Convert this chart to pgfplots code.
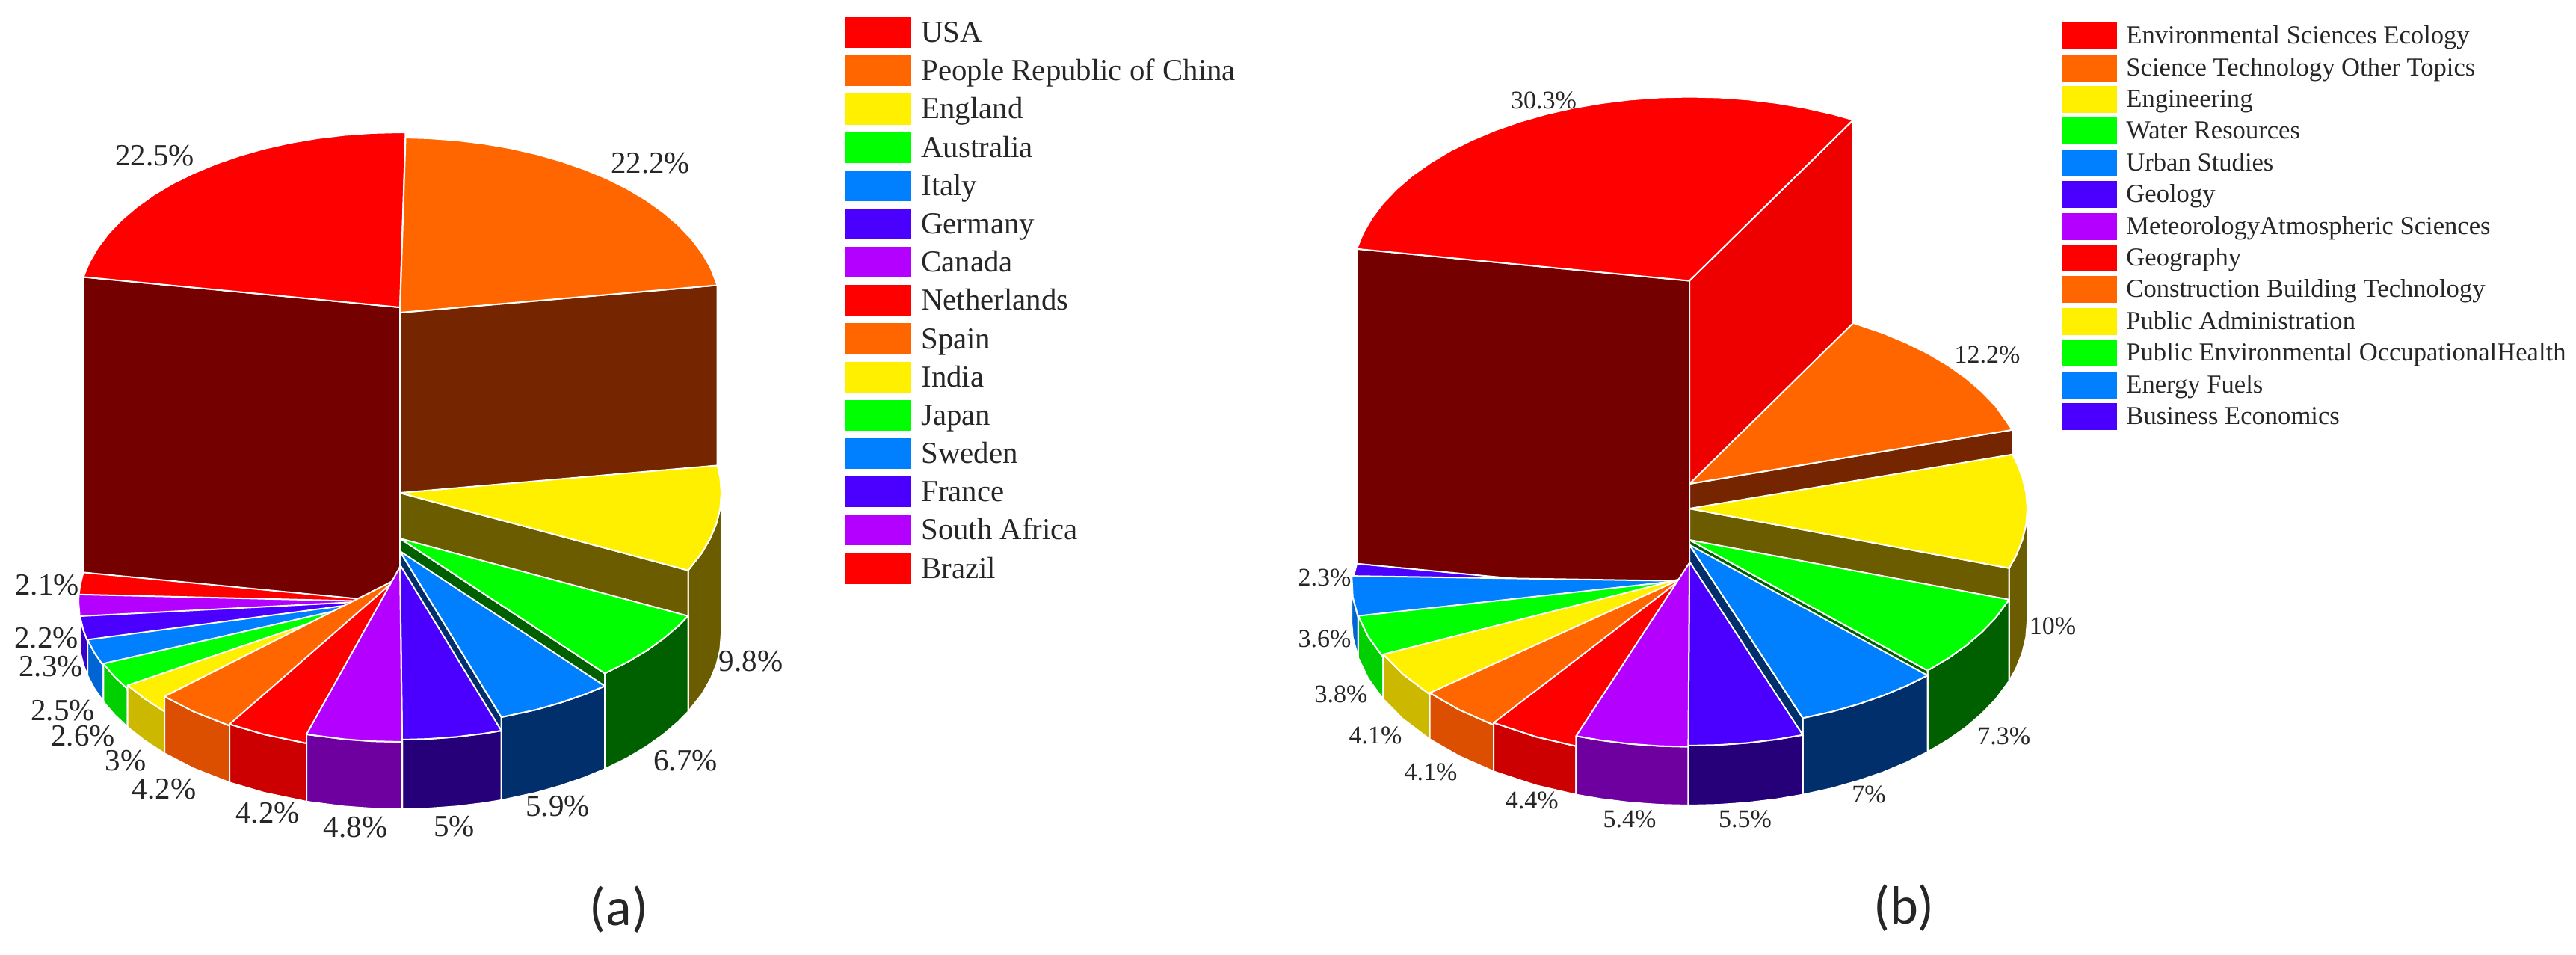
\documentclass[border=0pt]{standalone}
\usepackage{fontspec}
\setmainfont{Liberation Serif}
\newfontfamily\calib{Carlito}
\usepackage{pgfplots}
\pgfplotsset{compat=1.18}
\definecolor{cR}{HTML}{FF0000}\definecolor{cO}{HTML}{FF6600}\definecolor{cY}{HTML}{FFF000}
\definecolor{cG}{HTML}{00FF00}\definecolor{cB}{HTML}{0080FF}\definecolor{cV}{HTML}{4B00FF}
\definecolor{cP}{HTML}{B400FF}
\definecolor{dR}{HTML}{750000}\definecolor{dO}{HTML}{752600}\definecolor{dY}{HTML}{6B5C00}
\definecolor{dG}{HTML}{006000}\definecolor{dB}{HTML}{002F6B}\definecolor{dV}{HTML}{250078}
\definecolor{dP}{HTML}{6E00A0}
\definecolor{lR}{HTML}{CC0000}\definecolor{lO}{HTML}{DC4E00}\definecolor{lY}{HTML}{CDB800}
\definecolor{lG}{HTML}{00D000}\definecolor{lB}{HTML}{0064D2}\definecolor{lV}{HTML}{3A00CC}
\definecolor{rR}{HTML}{EE0000}
\newcommand\poly[2]{\addplot[fill=#1,draw=white,line width=1pt,line join=round] coordinates {#2} --cycle;}
\newcommand\swa[3]{\addplot[fill=#1,draw=none] coordinates {(1130,#2)(1219,#2)(1219,#3)(1130,#3)} --cycle;}
\newcommand\swb[3]{\addplot[fill=#1,draw=none] coordinates {(2758,#2)(2832,#2)(2832,#3)(2758,#3)} --cycle;}
\newcommand\pa[3]{\node[font=\fontsize{20.5}{22}\selectfont,text=black!85] at (axis cs:#1,#2) {#3\%};}
\newcommand\pb[3]{\node[font=\fontsize{17}{19}\selectfont,text=black!85] at (axis cs:#1,#2) {#3\%};}
\newcommand\la[2]{\node[anchor=west,inner sep=0pt,yshift=-1.5pt,text height=14pt,text depth=4pt,font=\fontsize{20.4}{22}\selectfont,text=black!85] at (axis cs:1232,#1) {#2};}
\newcommand\lb[2]{\node[anchor=west,inner sep=0pt,yshift=-1pt,text height=12pt,text depth=3.5pt,font=\fontsize{17.3}{19}\selectfont,text=black!85] at (axis cs:2844,#1) {#2};}
\begin{document}
\begin{tikzpicture}
\path[use as bounding box] (0,0) rectangle (1723pt,638pt);
\begin{axis}[at={(0,0)},anchor=south west,scale only axis,width=1723pt,height=638pt,
  xmin=0,xmax=3446,ymin=0,ymax=1276,y dir=reverse,hide axis,clip=false,no markers]
% ---- chart (a): back
\poly{dO}{(535,418)(959.7,381.4)(959.7,811.4)(535,848)}
\poly{dR}{(111.5,370.4)(535,411)(535,848)(111.5,808)}
\poly{cR}{(535,411)(111.5,370.4)(119.7,350.4)(131,331)(145.3,312.1)(162.6,294)(182.8,276.8)(205.6,260.6)(230.9,245.5)(258.6,231.8)(288.4,219.3)(320,208.4)(353.3,198.9)(388,191.1)(423.7,185)(460.4,180.6)(497.5,177.9)(535,177)(542.5,177)}
\poly{cO}{(535,418)(542.5,184)(572.5,184.9)(609.7,187.6)(646.3,192)(682.1,198.1)(716.7,205.9)(750,215.4)(781.6,226.3)(811.4,238.7)(839.1,252.5)(864.4,267.6)(887.2,283.8)(907.4,301)(924.7,319.1)(939.1,338)(950.3,357.4)(959.7,381.4)}
% England
\poly{dY}{(965,659)(963.4,679.4)(958.5,699.6)(950.3,719.6)(939.1,739)(920.5,762.7)(920.5,951.7)(939.1,928)(950.3,908.6)(958.5,888.6)(963.4,868.4)(965,848)}
\poly{dY}{(535,659)(920.5,762.7)(920.5,951.7)(535,848)}
\poly{cY}{(535,659)(959.7,622.4)(963.4,638.6)(965,659)(963.4,679.4)(958.5,699.6)(950.3,719.6)(939.1,739)(920.5,762.7)}
% Australia
\poly{dG}{(920.5,823.7)(907.4,837)(887.2,854.2)(864.4,870.4)(839.1,885.5)(809.1,900.3)(809.1,1028.3)(839.1,1013.5)(864.4,998.4)(887.2,982.2)(907.4,965)(920.5,951.7)}
\poly{dG}{(535,720)(809.1,900.3)(809.1,1028.3)(535,848)}
\poly{cG}{(535,720)(920.5,823.7)(907.4,837)(887.2,854.2)(864.4,870.4)(839.1,885.5)(809.1,900.3)}
% Italy
\poly{dB}{(809.1,917.3)(781.6,928.7)(750,939.6)(716.7,949.1)(670.7,959)(670.7,1070)(716.7,1060.1)(750,1050.6)(781.6,1039.7)(809.1,1028.3)}
\poly{dB}{(535,737)(670.7,959)(670.7,1070)(535,848)}
\poly{cB}{(535,737)(809.1,917.3)(781.6,928.7)(750,939.6)(716.7,949.1)(670.7,959)}
% Germany
\poly{dV}{(670.7,977)(646.3,981)(609.7,985.4)(572.5,988.1)(538,989)(538,1082)(572.5,1081.1)(609.7,1078.4)(646.3,1074)(670.7,1070)}
\poly{cV}{(535,755)(670.7,977)(646.3,981)(609.7,985.4)(572.5,988.1)(538,989)}
% left fan, back to front
\poly{cR}{(535,806)(105.4,795.8)(107.4,781.5)(111.5,765.4)}
\poly{dP}{(105,805)(106.9,827)(106.9,870)(105,848)}
\poly{cP}{(535,805)(106.9,827)(105,805)(105.4,794.8)}
\poly{lV}{(106.9,824)(111.5,842.6)(117.2,857.4)(117.2,903.4)(111.5,888.6)(106.9,870)}
\poly{cV}{(535,802)(117.2,857.4)(111.5,842.6)(106.9,824)}
\poly{lB}{(117.2,855.4)(126,872.3)(138.3,890.3)(138.3,938.3)(126,920.3)(117.2,903.4)}
\poly{cB}{(535,800)(138.3,890.3)(126,872.3)(117.2,855.4)}
\poly{lG}{(138.3,887.3)(153.2,904.7)(170.7,921.3)(170.7,972.3)(153.2,955.7)(138.3,938.3)}
\poly{cG}{(535,797)(170.7,921.3)(153.2,904.7)(138.3,887.3)}
\poly{lY}{(170.7,916.3)(193.8,934.4)(220,951.3)(220,1007.3)(193.8,990.4)(170.7,972.3)}
\poly{cY}{(535,792)(220,951.3)(193.8,934.4)(170.7,916.3)}
\poly{lO}{(220,931.3)(258.6,951.3)(307.1,970.4)(307.1,1046.4)(258.6,1027.3)(220,1007.3)}
\poly{cO}{(535,772)(307.1,970.4)(258.6,951.3)(220,931.3)}
\poly{lR}{(307.1,968.4)(353.3,982)(410,993.9)(410,1071.9)(353.3,1060)(307.1,1046.4)}
\poly{cR}{(535,770)(410,993.9)(353.3,982)(307.1,968.4)}
\poly{dP}{(410,981.9)(460.3,988.4)(497.5,991.1)(538,992)(538,1082)(497.5,1081.1)(460.3,1078.4)(410,1071.9)}
\poly{cP}{(535,758)(538,992)(497.5,991.1)(460.3,988.4)(410,981.9)}
% ---- chart (b)
\poly{dR}{(1814.9,332.8)(2260,375.5)(2260,831)(1814.9,788.3)}
\poly{rR}{(2260,375.5)(2479.1,160.3)(2479.1,615.8)(2260,831)}
\poly{cR}{(2260,375.5)(1814.9,332.8)(1823.4,311.8)(1835.3,291.4)(1850.3,271.5)(1868.6,252.5)(1889.7,234.4)(1913.7,217.4)(1940.4,201.5)(1969.5,187.1)(2000.7,174)(2034,162.5)(2069,152.5)(2105.4,144.3)(2143,137.9)(2181.5,133.2)(2220.6,130.4)(2260,129.5)(2299.4,130.4)(2338.5,133.2)(2377,137.9)(2414.6,144.3)(2451,152.5)(2479.1,160.3)}
\poly{dO}{(2260,647)(2692,574.7)(2692,758.7)(2260,831)}
\poly{cO}{(2260,647)(2479.1,431.8)(2519.3,445.5)(2550.5,458.6)(2579.6,473)(2606.3,488.9)(2630.3,505.9)(2651.4,524)(2669.7,543)(2692,574.7)}
\poly{dY}{(2712,680)(2710.3,701.4)(2705.1,722.7)(2696.6,743.7)(2687.6,759.7)(2687.6,910.7)(2696.6,894.7)(2705.1,873.7)(2710.3,852.4)(2712,831)}
\poly{dY}{(2260,680)(2687.6,759.7)(2687.6,910.7)(2260,831)}
\poly{cY}{(2260,680)(2692,607.7)(2696.6,616.3)(2705.1,637.3)(2710.3,658.6)(2712,680)(2710.3,701.4)(2705.1,722.7)(2696.6,743.7)(2687.6,759.7)}
\poly{dG}{(2687.6,801.7)(2669.7,826)(2651.4,845)(2630.3,863.1)(2606.3,880.1)(2578.5,896.6)(2578.5,1005.6)(2606.3,989.1)(2630.3,972.1)(2651.4,954)(2669.7,935)(2687.6,910.7)}
\poly{dG}{(2260,722)(2578.5,896.6)(2578.5,1005.6)(2260,831)}
\poly{cG}{(2260,722)(2687.6,801.7)(2669.7,826)(2651.4,845)(2630.3,863.1)(2606.3,880.1)(2578.5,896.6)}
\poly{dB}{(2578.5,903.1)(2550.5,916.9)(2519.3,930)(2486,941.5)(2451,951.5)(2411.6,960.2)(2411.6,1062.7)(2451,1054)(2486,1044)(2519.3,1032.5)(2550.5,1019.4)(2578.5,1005.6)}
\poly{dB}{(2260,728.5)(2411.6,960.2)(2411.6,1062.7)(2260,831)}
\poly{cB}{(2260,728.5)(2578.5,903.1)(2550.5,916.9)(2519.3,930)(2486,941.5)(2451,951.5)(2411.6,960.2)}
\poly{dV}{(2411.6,982.7)(2377,988.6)(2338.5,993.3)(2299.4,996.1)(2258.4,997)(2258.4,1077)(2299.4,1076.1)(2338.5,1073.3)(2377,1068.6)(2411.6,1062.7)}
\poly{cV}{(2260,751)(2411.6,982.7)(2377,988.6)(2338.5,993.3)(2299.4,996.1)(2258.4,997)}
\poly{cV}{(2260,796)(1808.2,802.9)(1809.7,774.5)(1815,753.7)}
\poly{lB}{(1808,777)(1809.7,798.4)(1816.9,825.6)(1816.9,879.6)(1809.7,852.4)(1808,831)}
\poly{cB}{(2260,777)(1816.9,825.6)(1809.7,798.4)(1808.2,770.1)}
\poly{lG}{(1816.9,823.6)(1830.1,851)(1850.4,879)(1850.4,935)(1830.1,907)(1816.9,879.6)}
\poly{cG}{(2260,775)(1850.4,879)(1830.1,851)(1816.9,823.6)}
\poly{lY}{(1850.4,875)(1876.7,901.4)(1912.7,928.5)(1912.7,988.5)(1876.7,961.4)(1850.4,935)}
\poly{cY}{(2260,771)(1912.7,928.5)(1876.7,901.4)(1850.4,875)}
\poly{lO}{(1912.7,926.5)(1951.7,948.9)(1998.2,969.5)(1998.2,1031.5)(1951.7,1010.9)(1912.7,988.5)}
\poly{cO}{(2260,769)(1998.2,969.5)(1951.7,948.9)(1912.7,926.5)}
\poly{lR}{(1998.2,966.5)(2054.8,985.2)(2108.4,997.7)(2108.4,1062.7)(2054.8,1050.2)(1998.2,1031.5)}
\poly{cR}{(2260,766)(2108.4,997.7)(2054.8,985.2)(1998.2,966.5)}
\poly{dP}{(2108.4,984.2)(2143,990.1)(2181.5,994.8)(2220.6,997.6)(2258.4,998.5)(2258.4,1077)(2220.6,1076.1)(2181.5,1073.3)(2143,1068.6)(2108.4,1062.7)}
\poly{cP}{(2260,752.5)(2258.4,998.5)(2220.6,997.6)(2181.5,994.8)(2143,990.1)(2108.4,984.2)}
% ---- legend swatches
\swa{cR}{23}{64.2}\swa{cO}{74.2}{115.4}\swa{cY}{125.3}{166.5}\swa{cG}{176.5}{217.7}\swa{cB}{227.7}{268.9}
\swa{cV}{278.9}{320.1}\swa{cP}{330}{371.2}\swa{cR}{381.2}{422.4}\swa{cO}{432.4}{473.6}\swa{cY}{483.5}{524.7}
\swa{cG}{534.7}{575.9}\swa{cB}{585.9}{627.1}\swa{cV}{637}{678.2}\swa{cP}{688.2}{729.4}\swa{cR}{739.4}{780.6}
\swb{cR}{30.2}{66.2}\swb{cO}{72.6}{108.6}\swb{cY}{115}{151}\swb{cG}{157.4}{193.4}\swb{cB}{199.8}{235.8}
\swb{cV}{242.2}{278.2}\swb{cP}{284.6}{320.6}\swb{cR}{327}{363}\swb{cO}{369.4}{405.4}\swb{cY}{411.8}{447.8}
\swb{cG}{454.2}{490.2}\swb{cB}{496.6}{532.6}\swb{cV}{539}{575}
% ---- legend text
\la{43.6}{USA}\la{94.8}{People Republic of China}\la{145.9}{England}\la{197.1}{Australia}\la{248.3}{Italy}
\la{299.5}{Germany}\la{350.6}{Canada}\la{401.8}{Netherlands}\la{453}{Spain}\la{504.1}{India}
\la{555.3}{Japan}\la{606.5}{Sweden}\la{657.6}{France}\la{708.8}{South Africa}\la{760}{Brazil}
\lb{48.2}{Environmental Sciences Ecology}\lb{90.6}{Science Technology Other Topics}\lb{133}{Engineering}
\lb{175.4}{Water Resources}\lb{217.8}{Urban Studies}\lb{260.2}{Geology}\lb{302.6}{MeteorologyAtmospheric Sciences}
\lb{345}{Geography}\lb{387.4}{Construction Building Technology}\lb{429.8}{Public Administration}
\lb{472.2}{Public Environmental OccupationalHealth}\lb{514.6}{Energy Fuels}\lb{557}{Business Economics}
% ---- percent labels
\pa{207}{208.6}{22.5}\pa{870}{218}{22.2}\pa{1004.6}{884}{9.8}\pa{917}{1017.5}{6.7}\pa{746}{1078}{5.9}
\pa{607.5}{1105}{5}\pa{475.6}{1106.5}{4.8}\pa{358}{1087.5}{4.2}\pa{219.6}{1055}{4.2}\pa{168}{1016.8}{3}
\pa{111}{984}{2.6}\pa{84}{950}{2.5}\pa{68}{891}{2.3}\pa{62}{853}{2.2}\pa{63}{782}{2.1}
\pb{2065}{134.7}{30.3}\pb{2658.4}{474.7}{12.2}\pb{2746}{837}{10}\pb{2680.7}{984}{7.3}\pb{2500}{1062}{7}
\pb{2334.4}{1095}{5.5}\pb{2180}{1095}{5.4}\pb{2049.3}{1070}{4.4}\pb{1914}{1032}{4.1}\pb{1840}{983.6}{4.1}
\pb{1794}{928}{3.8}\pb{1772}{854}{3.6}\pb{1772}{772.7}{2.3}
\node[font=\calib\fontsize{36}{40}\selectfont,text=black!85] at (axis cs:828,1216) {(a)};
\node[font=\calib\fontsize{36}{40}\selectfont,text=black!85] at (axis cs:2547,1214) {(b)};
\end{axis}
\end{tikzpicture}
\end{document}
